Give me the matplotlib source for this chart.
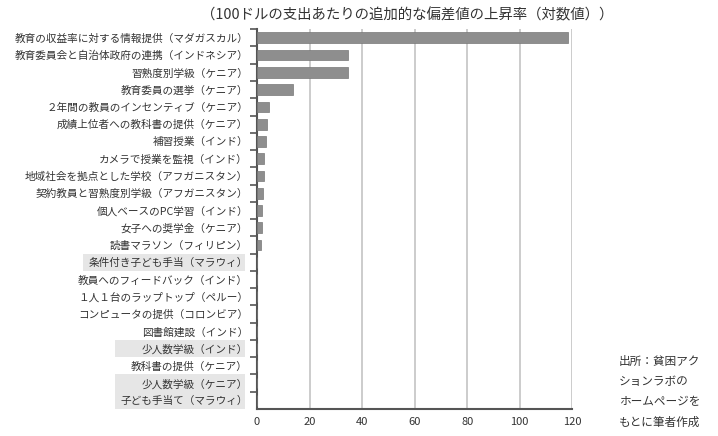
import matplotlib
matplotlib.use('Agg')
import matplotlib.pyplot as plt
from matplotlib.ticker import FixedLocator
from matplotlib.patches import Rectangle
from matplotlib.transforms import blended_transform_factory

plt.rcParams['font.family'] = ['Noto Sans CJK JP', 'DejaVu Sans']

# 施策（国）と上昇率
labels = [
    '教育の収益率に対する情報提供（マダガスカル）',
    '教育委員会と自治体政府の連携（インドネシア）',
    '習熟度別学級（ケニア）',
    '教育委員の選挙（ケニア）',
    '２年間の教員のインセンティブ（ケニア）',
    '成績上位者への教科書の提供（ケニア）',
    '補習授業（インド）',
    'カメラで授業を監視（インド）',
    '地域社会を拠点とした学校（アフガニスタン）',
    '契約教員と習熟度別学級（アフガニスタン）',
    '個人ベースのPC学習（インド）',
    '女子への奨学金（ケニア）',
    '読書マラソン（フィリピン）',
    '条件付き子ども手当（マラウィ）',
    '教員へのフィードバック（インド）',
    '１人１台のラップトップ（ペルー）',
    'コンピュータの提供（コロンビア）',
    '図書館建設（インド）',
    '少人数学級（インド）',
    '教科書の提供（ケニア）',
    '少人数学級（ケニア）',
    '子ども手当て（マラウィ）',
]
values = [118.5, 34.8, 34.8, 13.5, 4.7, 3.8, 3.4, 2.5, 2.5, 2.3, 1.9, 1.7, 1.5,
          0, 0, 0, 0, 0, 0, 0, 0, 0]
highlighted = ['条件付き子ども手当（マラウィ）', '少人数学級（インド）',
               '少人数学級（ケニア）', '子ども手当て（マラウィ）']
xticks = [0, 20, 40, 60, 80, 100, 120]

title = '（100ドルの支出あたりの追加的な偏差値の上昇率（対数値））'
note = '出所：貧困アク\nションラボの\nホームページを\nもとに筆者作成'

fig = plt.figure(figsize=(7.18, 4.36), dpi=100)
ax = fig.add_axes([0.358, 0.062, 0.439, 0.871])

n = len(labels)
ypos = list(range(n))
ax.barh(ypos, values, height=0.62, color='#8e8e8e', edgecolor='#777777',
        linewidth=0.5, zorder=3)

ax.set_ylim(n - 0.5, -0.5)
ax.set_xlim(0, 120)
ax.set_xticks(xticks)
ax.set_yticks(ypos)
ax.set_yticklabels(labels)
ax.yaxis.set_minor_locator(FixedLocator([i - 0.5 for i in range(n)]))
ax.tick_params(axis='y', which='major', length=0, pad=6.5, labelsize=7.65,
               labelcolor='#333333')
ax.tick_params(axis='y', which='minor', length=5, width=1.2, color='#555555')
ax.tick_params(axis='x', length=0, pad=6, labelsize=8, labelcolor='#333333')

ax.grid(axis='x', color='#cccccc', linewidth=1.4, zorder=0)
ax.set_axisbelow(True)
for s in ['top', 'right']:
    ax.spines[s].set_visible(False)
for s in ['left', 'bottom']:
    ax.spines[s].set_color('#555555')
    ax.spines[s].set_linewidth(1.5)

fig.text(0.567, 0.965, title, ha='center', va='center', fontsize=10.4,
         color='#333333')
fig.text(0.862, 0.016, note, ha='left', va='bottom', fontsize=8.4,
         color='#333333', linespacing=1.75)

# 強調するラベルの背景（近い行はまとめて同じ幅にする）
fig.canvas.draw()
W = fig.bbox.width
trans = blended_transform_factory(fig.transFigure, ax.transData)
ticklabels = ax.get_yticklabels()
rows = [i for i, lab in enumerate(ticklabels) if lab.get_text() in highlighted]
groups = []
for i in rows:
    if groups and i - groups[-1][-1] <= 2:
        groups[-1].append(i)
    else:
        groups.append([i])
for g in groups:
    left = min(ticklabels[i].get_window_extent().x0 for i in g) - 6
    x0 = left / W
    x1 = 245 / W
    # 連続する行は一つの長方形に
    runs = []
    for i in g:
        if runs and i == runs[-1][1] + 1:
            runs[-1][1] = i
        else:
            runs.append([i, i])
    for a, b in runs:
        ax.add_patch(Rectangle((x0, a - 0.5), x1 - x0, b - a + 1.0,
                               transform=trans, facecolor='#e6e6e6',
                               edgecolor='none', clip_on=False, zorder=0.5))

fig.savefig('out.png', dpi=100)
